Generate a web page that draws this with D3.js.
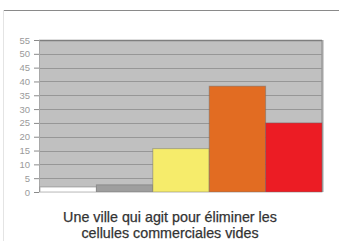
<!DOCTYPE html>
<html lang="fr">
<head>
<meta charset="UTF-8">
<title>Cellules commerciales vides</title>
<style>
  body { margin: 0; background: #fff; overflow: hidden; }
  svg { display: block; font-family: "Liberation Sans", Arial, sans-serif; }
  .tick text { fill: #9a9a9a; font-size: 9.5px; }
</style>
</head>
<body>
<div id="chart"></div>
<script src="https://d3js.org/d3.v7.min.js"></script>
<script>
// values
const categories = ["a", "b", "c", "d", "e"];
const values = [1.8, 2.6, 15.7, 38.3, 25];
const colors = ["#ffffff", "#9e9e9e", "#f6ec6b", "#e26c22", "#ec1c24"];
const yTicks = [0, 5, 10, 15, 20, 25, 30, 35, 40, 45, 50, 55];
const titleLines = ["Une ville qui agit pour éliminer les", "cellules commerciales vides"];

const width = 339, height = 241;
const plot = { left: 39, right: 322, top: 40, bottom: 192 };

const svg = d3.select("#chart").append("svg")
    .attr("width", width)
    .attr("height", height);

// outer frame lines
svg.append("line").attr("x1", 3).attr("x2", width).attr("y1", 10.5).attr("y2", 10.5)
    .attr("stroke", "#8a8a8a").attr("stroke-width", 1.2);
svg.append("line").attr("x1", 3.5).attr("x2", 3.5).attr("y1", 10).attr("y2", height)
    .attr("stroke", "#e4e4e4");

const x = d3.scaleBand().domain(categories).range([plot.left + 1, plot.right]).padding(0);
const y = d3.scaleLinear().domain([0, 55]).range([plot.bottom, plot.top]);

// plot background
svg.append("rect")
    .attr("x", plot.left).attr("y", plot.top)
    .attr("width", plot.right - plot.left).attr("height", plot.bottom - plot.top)
    .attr("fill", "#c0c0c0");
// darker right wall edge
svg.append("rect")
    .attr("x", plot.right - 1).attr("y", plot.top)
    .attr("width", 2.5).attr("height", plot.bottom - plot.top)
    .attr("fill", "#a4a4a4");

// gridlines
svg.append("g").selectAll("line")
    .data(yTicks.filter(d => d > 0))
    .enter().append("line")
    .attr("x1", plot.left).attr("x2", plot.right)
    .attr("y1", d => Math.round(y(d)) + 0.5).attr("y2", d => Math.round(y(d)) + 0.5)
    .attr("stroke", d => d === 55 ? "#7e7e7e" : "#969696")
    .attr("stroke-width", d => d === 55 ? 1.5 : 1);

// left axis
const axis = svg.append("g")
    .attr("transform", `translate(${plot.left},0)`)
    .call(d3.axisLeft(y).tickValues(yTicks).tickSize(5).tickPadding(4));
axis.select(".domain").attr("stroke", "#a8a8a8");
axis.selectAll(".tick line").attr("stroke", "#8a8a8a");

// bars
svg.append("g").selectAll("rect")
    .data(values)
    .enter().append("rect")
    .attr("x", (d, i) => x(categories[i]))
    .attr("y", d => y(d))
    .attr("width", x.bandwidth())
    .attr("height", d => plot.bottom - y(d))
    .attr("fill", (d, i) => colors[i])
    .attr("stroke", "#6a6a6a")
    .attr("stroke-opacity", 0.45)
    .attr("stroke-width", 1);

// baseline
svg.append("line").attr("x1", plot.left).attr("x2", plot.right)
    .attr("y1", plot.bottom + 0.5).attr("y2", plot.bottom + 0.5)
    .attr("stroke", "#d8d8d8");

// category title below the chart
svg.append("g").selectAll("text")
    .data(titleLines)
    .enter().append("text")
    .attr("x", 170)
    .attr("y", (d, i) => 221.5 + i * 16.5)
    .attr("text-anchor", "middle")
    .attr("font-size", "14.3px")
    .attr("fill", "#333")
    .attr("stroke", "#333")
    .attr("stroke-width", 0.25)
    .text(d => d);
</script>
</body>
</html>
